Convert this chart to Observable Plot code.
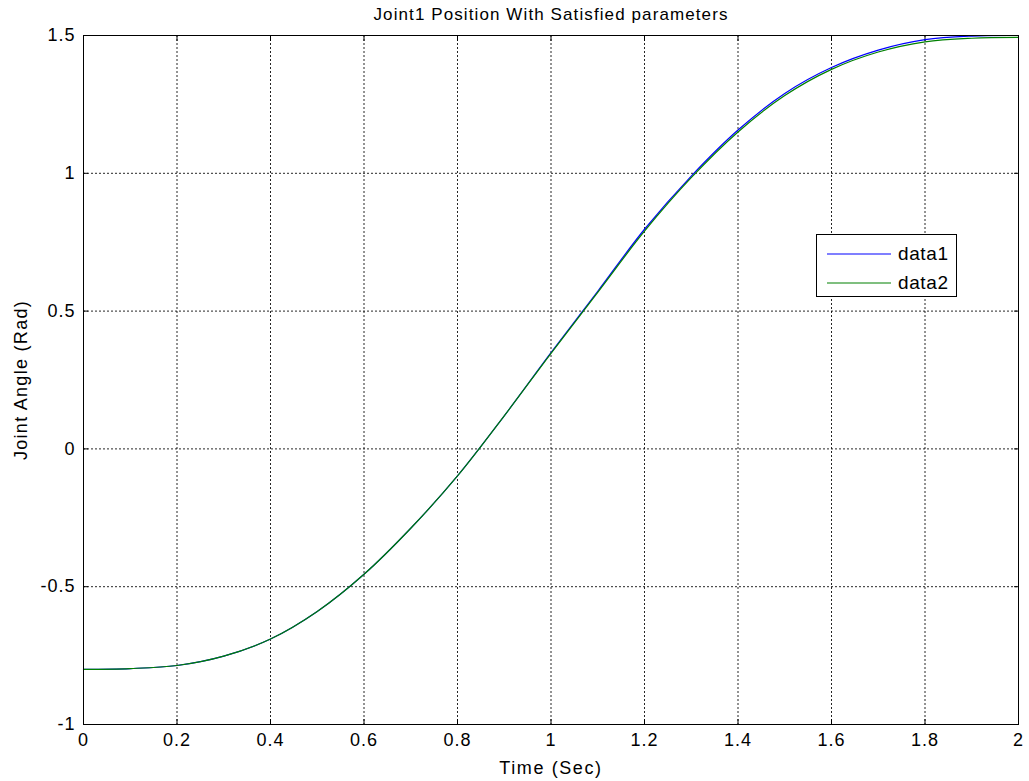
<!DOCTYPE html>
<html>
<head>
<meta charset="utf-8">
<script src="https://cdn.jsdelivr.net/npm/d3@7"></script>
<script src="https://cdn.jsdelivr.net/npm/@observablehq/plot@0.6"></script>
<style>
  html, body { margin: 0; padding: 0; background: #fff; }
  #wrap { position: relative; width: 1029px; height: 781px; font-family: "Liberation Sans", Arial, sans-serif; }
  #legend { position: absolute; left: 816px; top: 234px; width: 141px; height: 63px; border: 1px solid #000; background: #fff; box-sizing: border-box; }
  #legend .row { position: absolute; left: 10px; height: 20px; display: flex; align-items: center; font-size: 19px; letter-spacing: 0.6px; color: #000; }
  #legend .row svg { margin-right: 7px; }
</style>
</head>
<body>
<div id="wrap"></div>
<script>
const title = "Joint1 Position With Satisfied parameters";
const xLabel = "Time (Sec)";
const yLabel = "Joint Angle (Rad)";
const seriesNames = ["data1", "data2"];
const seriesColors = ["#0000ff", "#008000"];
const xTicks = [0, 0.2, 0.4, 0.6, 0.8, 1, 1.2, 1.4, 1.6, 1.8, 2];
const yTicks = [-1, -0.5, 0, 0.5, 1, 1.5];

const time = [0, 0.1, 0.2, 0.3, 0.4, 0.5, 0.6, 0.7, 0.8, 0.9, 1.0, 1.1, 1.2, 1.3, 1.4, 1.5, 1.6, 1.7, 1.8, 1.9, 2.0];
const data1 = [-0.800, -0.797, -0.786, -0.752, -0.690, -0.590, -0.455, -0.288, -0.098, 0.120, 0.349, 0.572, 0.797, 0.990, 1.157, 1.290, 1.384, 1.447, 1.485, 1.498, 1.500];
const data2 = [-0.800, -0.797, -0.786, -0.752, -0.690, -0.590, -0.455, -0.288, -0.098, 0.120, 0.347, 0.568, 0.790, 0.984, 1.150, 1.282, 1.377, 1.440, 1.477, 1.490, 1.493];

const rows = [];
[data1, data2].forEach((vals, s) => {
  time.forEach((t, i) => rows.push({t, v: vals[i], series: seriesNames[s]}));
});

const fmt = d => String(d);
const blank = () => "";

const chart = Plot.plot({
  width: 1029,
  height: 781,
  marginLeft: 83,
  marginRight: 11,
  marginTop: 35,
  marginBottom: 57,
  style: {fontFamily: "Liberation Sans, Arial, sans-serif", fontSize: "18px", color: "#000", background: "#fff"},
  x: {domain: [0, 2], ticks: xTicks, tickFormat: fmt, label: null},
  y: {domain: [-1, 1.5], ticks: yTicks, tickFormat: fmt, label: null},
  color: {domain: seriesNames, range: seriesColors},
  marks: [
    Plot.gridX(xTicks, {stroke: "#000", strokeOpacity: 0.85, strokeDasharray: "2,2", strokeWidth: 1}),
    Plot.gridY(yTicks, {stroke: "#000", strokeOpacity: 0.85, strokeDasharray: "2,2", strokeWidth: 1}),
    Plot.axisX(xTicks, {anchor: "bottom", tickSize: -5, tickPadding: 14, tickFormat: fmt, label: null, fontSize: 18}),
    Plot.axisX(xTicks, {anchor: "top", tickSize: -5, tickFormat: blank, label: null}),
    Plot.axisY(yTicks, {anchor: "left", tickSize: -5, tickPadding: 13, tickFormat: fmt, label: null, fontSize: 18}),
    Plot.axisY(yTicks, {anchor: "right", tickSize: -5, tickFormat: blank, label: null}),
    Plot.lineY(rows, {x: "t", y: "v", stroke: "series", z: "series", strokeWidth: 1.2, curve: "catmull-rom"}),
    Plot.frame({stroke: "#000", strokeWidth: 1}),
    Plot.text([title], {text: d => d, frameAnchor: "top", dy: -21, fontSize: 17, lineAnchor: "middle", textAnchor: "middle"}),
    Plot.text([xLabel], {text: d => d, frameAnchor: "bottom", dy: 44, fontSize: 18, lineAnchor: "middle", textAnchor: "middle"}),
    Plot.text([yLabel], {text: d => d, frameAnchor: "left", dx: -62, rotate: -90, fontSize: 18, lineAnchor: "middle", textAnchor: "middle"})
  ]
});

const tickStrings = new Set([...xTicks, ...yTicks].map(fmt));
d3.select(chart).selectAll("text").each(function () {
  const s = this.textContent;
  let ls = null;
  if (s === title) ls = "1.1px";
  else if (s === xLabel) ls = "1.6px";
  else if (s === yLabel) ls = "1.3px";
  else if (tickStrings.has(s)) ls = "1px";
  if (ls) this.setAttribute("letter-spacing", ls);
});

const wrap = document.getElementById("wrap");
wrap.appendChild(chart);

const legend = document.createElement("div");
legend.id = "legend";
seriesNames.forEach((name, i) => {
  const row = document.createElement("div");
  row.className = "row";
  row.style.top = (9 + i * 29) + "px";
  row.innerHTML = `<svg width="64" height="4"><line x1="0" y1="2" x2="64" y2="2" stroke="${seriesColors[i]}" stroke-width="1.2"/></svg><span>${name}</span>`;
  legend.appendChild(row);
});
wrap.appendChild(legend);
</script>
</body>
</html>
